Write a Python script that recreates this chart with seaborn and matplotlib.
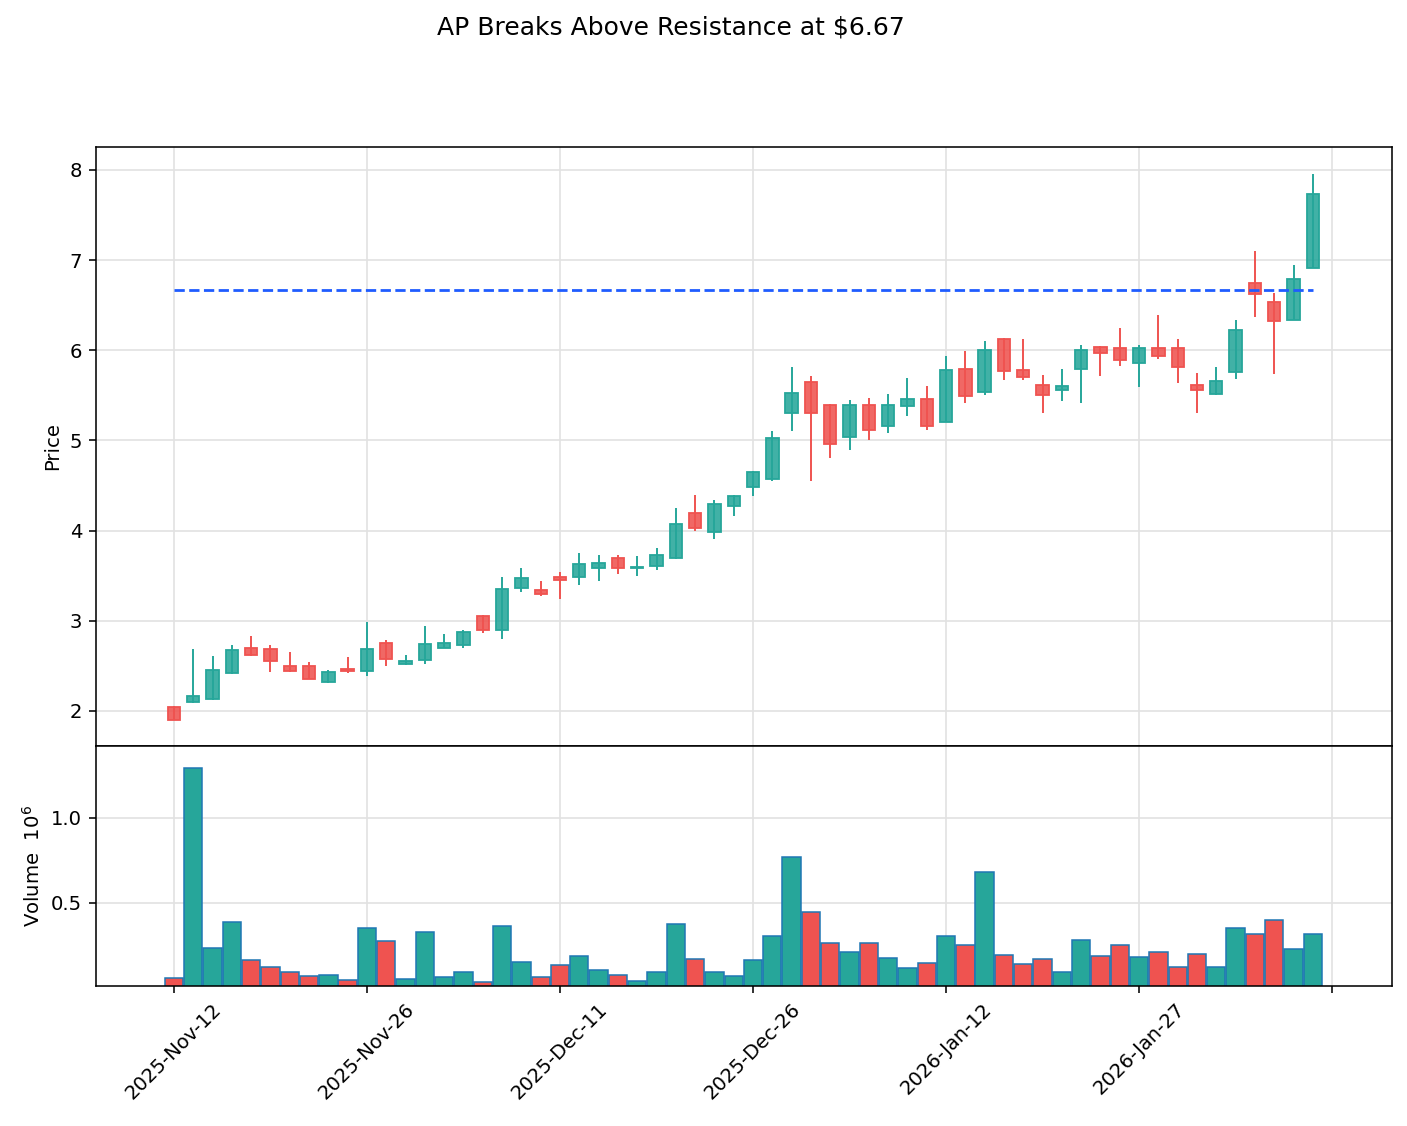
import numpy as np
import pandas as pd
import matplotlib
matplotlib.use("Agg")
import matplotlib.pyplot as plt
import seaborn as sns

# Daily OHLC, one per trading day, Nov 12 2025 -> Feb 9 2026
opens = [2.04, 2.10, 2.13, 2.42, 2.70, 2.69, 2.50, 2.50, 2.32, 2.47,
         2.44, 2.75, 2.52, 2.56, 2.70, 2.73, 3.05, 2.90, 3.36, 3.34,
         3.49, 3.49, 3.59, 3.70, 3.59, 3.61, 3.70, 4.20, 3.98, 4.27,
         4.48, 4.57, 5.30, 5.65, 5.39, 5.04, 5.39, 5.16, 5.38, 5.46,
         5.21, 5.79, 5.54, 6.13, 5.78, 5.61, 5.56, 5.79, 6.04, 6.02,
         5.86, 6.02, 6.03, 5.62, 5.51, 5.76, 6.75, 6.53, 6.34, 6.91]
highs = [2.05, 2.69, 2.61, 2.73, 2.83, 2.73, 2.65, 2.54, 2.46, 2.60,
         2.99, 2.79, 2.62, 2.94, 2.85, 2.90, 3.06, 3.49, 3.59, 3.44,
         3.54, 3.75, 3.73, 3.73, 3.72, 3.81, 4.25, 4.39, 4.34, 4.39,
         4.66, 5.11, 5.81, 5.71, 5.40, 5.45, 5.47, 5.51, 5.69, 5.60,
         5.94, 5.99, 6.10, 6.14, 6.12, 5.73, 5.79, 6.06, 6.05, 6.25,
         6.06, 6.39, 6.13, 5.75, 5.81, 6.34, 7.10, 6.64, 6.95, 7.96]
lows = [1.90, 2.09, 2.12, 2.41, 2.61, 2.43, 2.43, 2.35, 2.31, 2.42,
        2.39, 2.50, 2.51, 2.52, 2.70, 2.70, 2.87, 2.80, 3.32, 3.28,
        3.24, 3.40, 3.44, 3.52, 3.50, 3.56, 3.69, 4.00, 3.91, 4.16,
        4.38, 4.55, 5.11, 4.55, 4.80, 4.89, 5.01, 5.08, 5.27, 5.12,
        5.20, 5.41, 5.50, 5.67, 5.67, 5.30, 5.44, 5.41, 5.72, 5.83,
        5.59, 5.90, 5.64, 5.30, 5.50, 5.68, 6.37, 5.74, 6.34, 6.91]
closes = [1.90, 2.17, 2.46, 2.68, 2.62, 2.55, 2.44, 2.36, 2.43, 2.44,
          2.69, 2.58, 2.55, 2.74, 2.75, 2.88, 2.90, 3.35, 3.47, 3.30,
          3.45, 3.63, 3.64, 3.59, 3.60, 3.73, 4.07, 4.03, 4.29, 4.38,
          4.65, 5.03, 5.53, 5.31, 4.96, 5.39, 5.12, 5.39, 5.46, 5.16,
          5.78, 5.49, 6.00, 5.77, 5.70, 5.50, 5.60, 6.00, 5.97, 5.89,
          6.03, 5.94, 5.82, 5.56, 5.66, 6.23, 6.62, 6.32, 6.79, 7.73]
# volume in millions of shares
volumes = [0.059, 1.293, 0.236, 0.390, 0.165, 0.124, 0.094, 0.071, 0.077, 0.047,
           0.354, 0.278, 0.049, 0.331, 0.065, 0.094, 0.035, 0.366, 0.154, 0.065,
           0.136, 0.189, 0.106, 0.077, 0.041, 0.094, 0.378, 0.171, 0.094, 0.071,
           0.165, 0.307, 0.768, 0.443, 0.266, 0.213, 0.266, 0.177, 0.118, 0.148,
           0.307, 0.254, 0.679, 0.193, 0.142, 0.171, 0.094, 0.283, 0.189, 0.254,
           0.183, 0.213, 0.124, 0.201, 0.124, 0.354, 0.319, 0.396, 0.230, 0.319]

tick_pos = [0, 10, 20, 30, 40, 50, 60]
tick_labels = ['2025-Nov-12', '2025-Nov-26', '2025-Dec-11', '2025-Dec-26',
               '2026-Jan-12', '2026-Jan-27', '']
resistance = 6.67

UP, DOWN = '#26a69a', '#ef5350'

sns.set_theme(style="whitegrid", rc={
    "axes.edgecolor": "black", "axes.linewidth": 1.13,
    "grid.color": "#e2e2e2", "grid.linewidth": 1.2,
    "xtick.bottom": True, "ytick.left": True,
    "xtick.major.size": 4.9, "ytick.major.size": 4.9,
    "xtick.major.width": 1.13, "ytick.major.width": 1.13,
    "xtick.major.pad": 4.9, "ytick.major.pad": 4.9,
    "axes.labelpad": 5.6,
    "text.color": "black", "axes.labelcolor": "black",
    "xtick.color": "black", "ytick.color": "black",
    "xtick.labelsize": 14.1, "ytick.labelsize": 14.1, "axes.labelsize": 14.1,
})
plt.rcParams['font.family'] = ['DejaVu Sans']

df = pd.DataFrame({'Open': opens, 'High': highs, 'Low': lows,
                   'Close': closes, 'Volume': volumes})
df['idx'] = np.arange(len(df))
df['Dir'] = np.where(df['Close'] >= df['Open'], 'up', 'down')
colors = df['Dir'].map({'up': UP, 'down': DOWN})

fig = plt.figure(figsize=(14.07, 11.26), dpi=100)
ax = fig.add_axes([0.0682, 0.3375, 0.9211, 0.5320])
axv = fig.add_axes([0.0682, 0.1243, 0.9211, 0.2132], sharex=ax)

# candles: wicks + bodies
ax.vlines(df['idx'], df['Low'], df['High'], colors=colors, linewidth=1.4, zorder=2)
body_lo = df[['Open', 'Close']].min(axis=1)
body_h = (df['Open'] - df['Close']).abs()
ax.bar(df['idx'], body_h, bottom=body_lo, width=0.64,
       color=[matplotlib.colors.to_rgba(c, 0.88) for c in colors],
       edgecolor=colors, linewidth=1.3, zorder=3)

ax.plot([df['idx'].iloc[0], df['idx'].iloc[-1]], [resistance, resistance],
        color='#1f5cff', linestyle='--', linewidth=2, zorder=4)

ax.set_ylim(1.612, 8.255)
ax.set_yticks([2, 3, 4, 5, 6, 7, 8])
ax.set_ylabel('Price')
ax.tick_params(labelbottom=False)

# volume panel
sns.barplot(data=df, x='idx', y='Volume', hue='Dir',
            palette={'up': UP, 'down': DOWN}, dodge=False, width=0.95,
            saturation=1, edgecolor='#1f77b4', linewidth=1.1,
            legend=False, ax=axv)
axv.set_ylim(0.3 * min(volumes), 1.1 * max(volumes))
axv.set_yticks([0.5, 1.0])
axv.set_yticklabels(['0.5', '1.0'])
axv.set_ylabel('Volume  $10^{6}$')
axv.set_xlabel('')

axv.set_xticks(tick_pos)
axv.set_xticklabels(tick_labels, rotation=45)
axv.set_xlim(-4.04, 63.1)
for a in (ax, axv):
    a.grid(True, axis='both')
    a.set_axisbelow(True)
    for s in a.spines.values():
        s.set_color('black')

fig.suptitle('AP Breaks Above Resistance at $6.67', x=0.477, y=0.976,
             va='center', fontsize=18)

fig.savefig('out.png', dpi=100)
